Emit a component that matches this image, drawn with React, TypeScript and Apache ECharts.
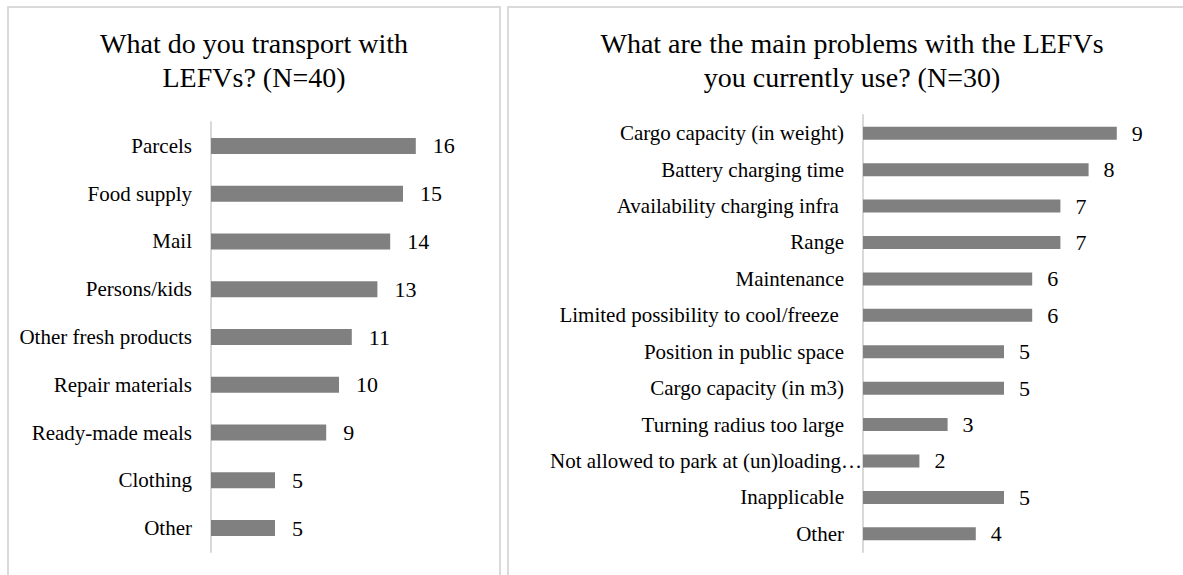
import React, { useEffect, useRef } from "react";
import * as echarts from "echarts";

const leftTitle = "What do you transport with\nLEFVs? (N=40)";
const rightTitle = "What are the main problems with the LEFVs\nyou currently use? (N=30)";

const leftCategories = [
  "Parcels",
  "Food supply",
  "Mail",
  "Persons/kids",
  "Other fresh products",
  "Repair materials",
  "Ready-made meals",
  "Clothing",
  "Other",
];
const leftValues = [16, 15, 14, 13, 11, 10, 9, 5, 5];

const rightCategories = [
  "Cargo capacity (in weight)",
  "Battery charging time",
  "Availability charging infra ",
  "Range",
  "Maintenance",
  "Limited possibility to cool/freeze ",
  "Position in public space",
  "Cargo capacity (in m3)",
  "Turning radius too large",
  "Not allowed to park at (un)loading\u2026",
  "Inapplicable",
  "Other",
];
const rightValues = [9, 8, 7, 7, 6, 6, 5, 5, 3, 2, 5, 4];

const FONT = "Liberation Serif";
const BAR = "#808080";
const AXIS = "#d9d9d9";
const BORDER = "#dadada";

export default function App() {
  const ref = useRef<HTMLDivElement>(null);

  useEffect(() => {
    if (!ref.current) return;
    const chart = echarts.init(ref.current, undefined, { renderer: "svg" });

    const titleStyle = {
      fontFamily: FONT,
      fontSize: 28,
      lineHeight: 34,
      fontWeight: "normal" as const,
      color: "#000000",
    };

    const catAxis = (gridIndex: number, data: any[]) => ({
      type: "category" as const,
      gridIndex,
      data,
      inverse: true,
      axisLine: { show: true, lineStyle: { color: AXIS, width: 2 } },
      axisTick: { show: false },
      axisLabel: {
        interval: 0,
        margin: 19,
        fontFamily: FONT,
        fontSize: 21,
        color: "#000000",
      },
      splitLine: { show: false },
    });

    const valAxis = (gridIndex: number, max: number) => ({
      type: "value" as const,
      gridIndex,
      min: 0,
      max,
      show: false,
      splitLine: { show: false },
    });

    const barLabel = (distance: number) => ({
      show: true,
      position: "right" as const,
      distance,
      fontFamily: FONT,
      fontSize: 22,
      color: "#000000",
    });

    // the truncated label in the reference runs up to the axis line
    const rightAxisData = rightCategories.map((c) =>
      c.endsWith("\u2026") ? { value: c, textStyle: { padding: [0, -18, 0, 0] } } : c
    );

    chart.setOption({
      animation: false,
      backgroundColor: "#ffffff",
      textStyle: { fontFamily: FONT },
      graphic: [
        {
          type: "rect",
          z: -10,
          shape: { x: 8, y: 7, width: 492, height: 620 },
          style: { fill: "none", stroke: BORDER, lineWidth: 2 },
          silent: true,
        },
        {
          type: "rect",
          z: -10,
          shape: { x: 508, y: 7, width: 690, height: 620 },
          style: { fill: "none", stroke: BORDER, lineWidth: 2 },
          silent: true,
        },
      ],
      title: [
        {
          text: leftTitle,
          left: 254,
          top: 26,
          padding: 0,
          textAlign: "center",
          textStyle: titleStyle,
        },
        {
          text: rightTitle,
          left: 852,
          top: 26,
          padding: 0,
          textAlign: "center",
          textStyle: titleStyle,
        },
      ],
      grid: [
        { left: 211, top: 122, width: 256, height: 430, containLabel: false },
        { left: 863, top: 115, width: 282, height: 437, containLabel: false },
      ],
      xAxis: [valAxis(0, 20), valAxis(1, 10)],
      yAxis: [catAxis(0, leftCategories), catAxis(1, rightAxisData)],
      series: [
        {
          type: "bar",
          xAxisIndex: 0,
          yAxisIndex: 0,
          data: leftValues,
          barWidth: 16,
          itemStyle: { color: BAR },
          label: barLabel(17),
        },
        {
          type: "bar",
          xAxisIndex: 1,
          yAxisIndex: 1,
          data: rightValues,
          barWidth: 13,
          itemStyle: { color: BAR },
          label: barLabel(15),
        },
      ],
    });

    return () => chart.dispose();
  }, []);

  return (
    <div
      ref={ref}
      style={{
        position: "fixed",
        left: 0,
        top: 0,
        width: 1183,
        height: 575,
        background: "#ffffff",
      }}
    />
  );
}
